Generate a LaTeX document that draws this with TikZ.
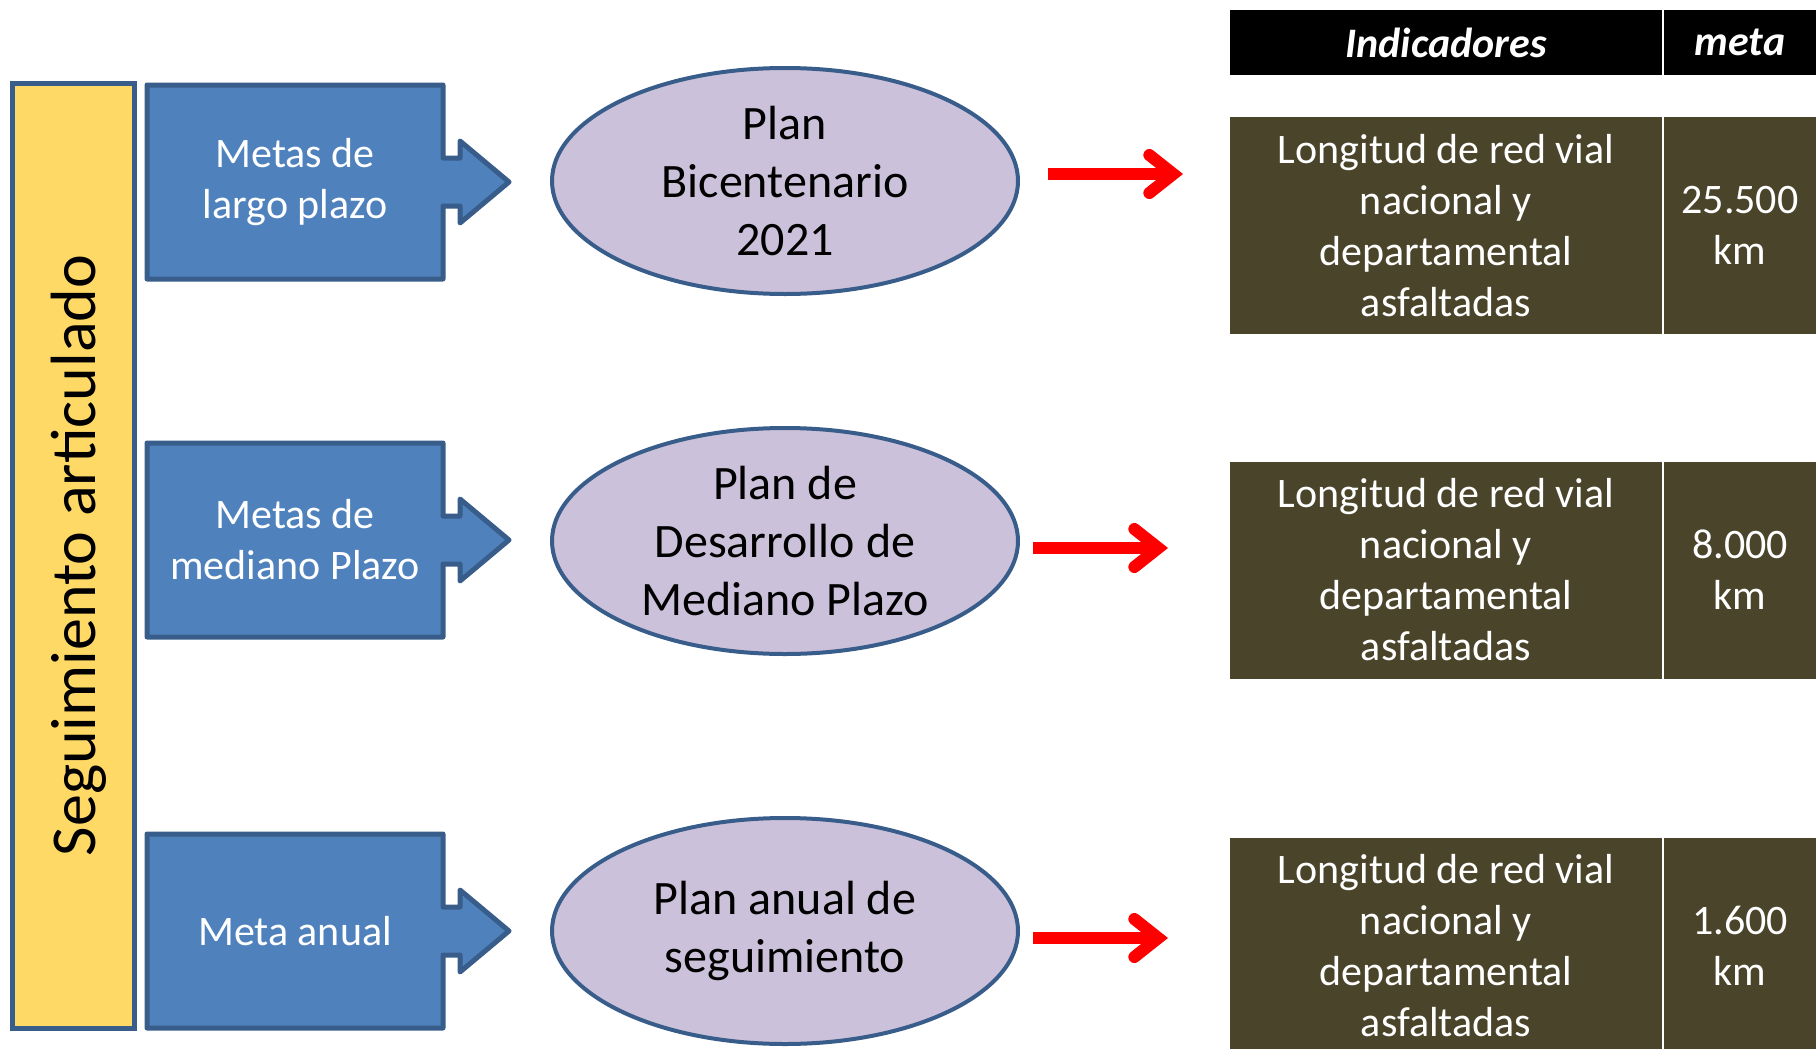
\documentclass[tikz,border=0pt]{standalone}
\usepackage{fontspec}
\setmainfont{Carlito}
\usetikzlibrary{arrows.meta,shapes.geometric}
\definecolor{barYellow}{RGB}{255,217,102}
\definecolor{boxBlue}{RGB}{79,129,189}
\definecolor{edgeBlue}{RGB}{56,93,138}
\definecolor{planLila}{RGB}{204,193,218}
\definecolor{cellOlive}{RGB}{74,68,42}

\begin{document}
\begin{tikzpicture}[x=0.5pt,y=-0.5pt,
  callout/.style={fill=boxBlue,draw=edgeBlue,line width=2.5pt,line join=round},
  calltext/.style={text=white,align=center,font=\fontsize{21}{25.5}\selectfont},
  plan/.style={ellipse,draw=edgeBlue,line width=2pt,fill=planLila,minimum width=233pt,minimum height=113pt,inner sep=0pt,align=center,font=\fontsize{24}{29}\selectfont},
  cell/.style={fill=cellOlive,text=white,align=center,inner sep=0pt,minimum height=108.5pt,font=\fontsize{21}{25.5}\selectfont},
  head/.style={fill=black,text=white,inner sep=0pt,minimum height=32.5pt,font=\fontsize{21}{25.5}\selectfont\bfseries\itshape},
  redarrow/.style={red,line width=6pt,-{Straight Barb[line cap=round,line join=miter,length=12pt,width=19pt]}}]
  \clip (0,0) rectangle (1816,1049);
  % vertical bar
  \draw[fill=barYellow,draw=edgeBlue,line width=2.5pt] (12,83) rectangle (134,1028);
  \node[rotate=90,font=\fontsize{32}{38}\selectfont] (seg) at (79,555.5) {Seguimiento articulado};
  % goal callouts
  \foreach \yc/\nm/\txt in {182/largo/{Metas de\\largo plazo},540/mediano/{Metas de\\mediano Plazo},931/anual/{Meta anual}}{
    \draw[callout] (147,\yc-97) -- (443,\yc-97) -- (443,\yc-24) -- (460,\yc-24) -- (460,\yc-41) -- (509,\yc)
      -- (460,\yc+41) -- (460,\yc+24) -- (443,\yc+24) -- (443,\yc+97) -- (147,\yc+97) -- cycle;
    \node[calltext] (\nm) at (295,\yc) {\txt};
  }
  % plans
  \node[plan] (bicent) at (785,181) {Plan\\Bicentenario\\2021};
  \node[plan] (pdmp) at (785,541) {Plan de\\Desarrollo de\\Mediano Plazo};
  \node[plan] (pas) at (785,931) {Plan anual de\\seguimiento};
  % red arrows
  \coordinate (a1) at (1048,174); \coordinate (b1) at (1183,174);
  \coordinate (a2) at (1033,548); \coordinate (b2) at (1168,548);
  \coordinate (a3) at (1033,938); \coordinate (b3) at (1168,938);
  \foreach \i in {1,2,3} \draw[redarrow] (a\i) -- (b\i);
  % table
  \node[head,minimum width=216pt] (hind) at (1446,42.5) {Indicadores};
  \node[head,minimum width=76pt] (hmeta) at (1740,42.5) {meta};
  \foreach \yc/\i/\val in {225.5/1/25.500,570/2/8.000,946/3/1.600}{
    \node[cell,minimum width=216pt] (ind\i) at (1446,\yc) {Longitud de red vial\\nacional y\\departamental\\asfaltadas};
    \node[cell,minimum width=76pt] (val\i) at (1740,\yc) {\val\\km};
  }
\end{tikzpicture}
\end{document}
